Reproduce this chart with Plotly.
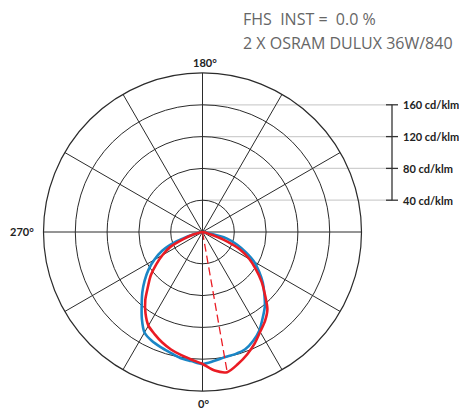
import plotly.graph_objects as go

# ---------------- data ----------------
angles = [-90, -85, -80, -75, -70, -65, -60, -55, -50, -45, -40, -35, -30, -25, -20, -15, -10, -5,
          0, 5, 10, 15, 20, 25, 30, 35, 40, 45, 50, 55, 60, 65, 70, 75, 80, 85, 90]
blue_values = [0, 0, 2, 12, 35, 56, 70, 83, 95, 107, 119, 133, 146, 151, 154, 157, 161, 163,
               166, 163, 160, 159, 157, 151, 143, 132, 122, 110, 99, 87, 75, 60, 46, 32, 6, 0, 0]
red_values = [0, 0, 3, 12, 25, 45, 58, 71, 85, 97, 112, 125, 136, 142, 148, 153, 157, 161,
              166, 175, 179, 172, 164, 155, 145, 137, 127, 111, 97, 82, 68, 52, 28, 8, 2, 0, 0]
ring_values = [40, 80, 120, 160]
scale_labels = ["40 cd/klm", "80 cd/klm", "120 cd/klm", "160 cd/klm"]
r_max = 200
angle_labels = ["0°", "180°", "270°"]
title_lines = ["FHS\u00a0\u00a0INST\u00a0=\u00a0\u00a00.0\u00a0%", "2 X OSRAM DULUX 36W/840"]

# ---------------- geometry ----------------
OFF = 8                    # default page body margin
W, H = 467 - OFF, 410 - OFF
cx, cy = 202.5 - OFF, 232.0 - OFF   # pixel centre of polar plot (figure coords)
R = 159.0                  # pixel radius of outer ring
k = R / r_max              # px per cd/klm

GRID = "#2b2b2b"
BLUE = "#1a86c6"
RED = "#ea1c24"

fig = go.Figure()

# grey guide lines + scale bar in an overlay cartesian frame matched to the polar scale
bar_x = (392 - OFF - cx) / k
tick_half = 6 / k
for v in ring_values:
    fig.add_shape(type="line", xref="x", yref="y", x0=0, x1=bar_x, y0=v, y1=v,
                  line=dict(color="#cfcfcf", width=1.3), layer="below")
fig.add_trace(go.Scatter(x=[bar_x, bar_x], y=[min(ring_values), max(ring_values)], mode="lines",
                         line=dict(color="#333333", width=1.3), hoverinfo="skip", showlegend=False,
                         xaxis="x", yaxis="y"))
for v in ring_values:
    fig.add_trace(go.Scatter(x=[bar_x - tick_half, bar_x + tick_half], y=[v, v], mode="lines",
                             line=dict(color="#333333", width=1.3), hoverinfo="skip",
                             showlegend=False, xaxis="x", yaxis="y"))
for v, lab in zip(ring_values, scale_labels):
    fig.add_annotation(x=(402 - OFF - cx) / k, y=v, xref="x", yref="y", text="<b>" + lab + "</b>",
                       showarrow=False, xanchor="left", yanchor="middle", borderpad=0,
                       font=dict(family="Lato", size=11, color="#222222"))

# curves
fig.add_trace(go.Scatterpolar(r=blue_values, theta=angles, mode="lines",
                              line=dict(color=BLUE, width=2.6, shape="spline", smoothing=0.8),
                              showlegend=False, hoverinfo="skip"))
fig.add_trace(go.Scatterpolar(r=red_values, theta=angles, mode="lines",
                              line=dict(color=RED, width=2.6, shape="spline", smoothing=0.8),
                              showlegend=False, hoverinfo="skip"))
i_max = max(range(len(red_values)), key=lambda i: red_values[i])
fig.add_trace(go.Scatterpolar(r=[0, red_values[i_max]], theta=[angles[i_max], angles[i_max]],
                              mode="lines", line=dict(color=RED, width=1.3, dash="8px,4px"),
                              showlegend=False, hoverinfo="skip"))

# angle labels (page pixel positions -> overlay coords)
lab_pos = {"0°": (203.5, 403, "center"),
           "180°": (205, 62, "center"),
           "270°": (35, 231, "right")}
for lab in angle_labels:
    px, py, xa = lab_pos[lab]
    fig.add_annotation(x=(px - OFF - cx) / k, y=(cy - (py - OFF)) / k, xref="x", yref="y",
                       text="<b>" + lab + "</b>", showarrow=False, xanchor=xa, yanchor="middle",
                       borderpad=0, font=dict(family="Lato", size=11, color="#222222"))

# title lines
for i, t in enumerate(title_lines):
    fig.add_annotation(x=(241 - OFF) / W, y=1 - (19 + 24 * i - OFF) / H, xref="paper", yref="paper",
                       text=t, showarrow=False, xanchor="left", yanchor="middle",
                       font=dict(family="Open Sans", size=16, color="#666666"))

fig.update_layout(
    width=W, height=H, margin=dict(l=0, r=0, t=0, b=0),
    paper_bgcolor="white", plot_bgcolor="rgba(0,0,0,0)",
    xaxis=dict(range=[-cx / k, (W - cx) / k], domain=[0, 1], visible=False, fixedrange=True),
    yaxis=dict(range=[-(H - cy) / k, cy / k], domain=[0, 1], visible=False, fixedrange=True),
    polar=dict(
        domain=dict(x=[(cx - R) / W, (cx + R) / W], y=[1 - (cy + R) / H, 1 - (cy - R) / H]),
        bgcolor="rgba(0,0,0,0)",
        radialaxis=dict(range=[0, r_max], tickvals=ring_values, showticklabels=False, ticks="",
                        showline=False, gridcolor=GRID, gridwidth=1),
        angularaxis=dict(rotation=-90, direction="counterclockwise", tickmode="linear", dtick=30,
                         showticklabels=False, ticks="", showline=True, linecolor=GRID, linewidth=1.2,
                         gridcolor=GRID, gridwidth=1),
    ),
    showlegend=False,
)

fig.write_html("out.html")
